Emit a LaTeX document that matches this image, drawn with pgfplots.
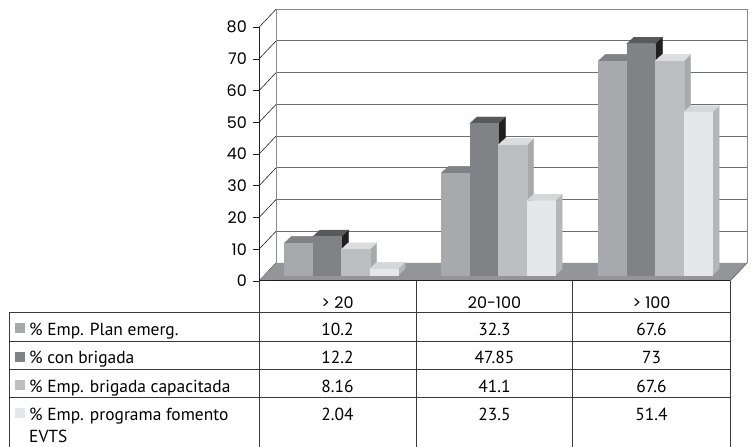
\documentclass[border=0pt]{standalone}
\usepackage{pgfplots}
\usepackage{pgfplotstable}
\pgfplotsset{compat=1.18}
\usepackage{fontspec}
\setmainfont{PT Sans}
\newfontfamily\tickfont{Poppins}

% face colours of the four series: front, top, side
\definecolor{planF}{HTML}{A7A9AC}
\definecolor{planT}{HTML}{808285}
\definecolor{planS}{HTML}{6D6E71}
\definecolor{brigF}{HTML}{808285}
\definecolor{brigT}{HTML}{58595B}
\definecolor{brigS}{HTML}{231F20}
\definecolor{capF}{HTML}{BCBEC0}
\definecolor{capT}{HTML}{DCDDDE}
\definecolor{capS}{HTML}{A7A9AC}
\definecolor{evtsF}{HTML}{E6E7E8}
\definecolor{evtsT}{HTML}{D6D7D9}
\definecolor{evtsS}{HTML}{B4B6B8}
\definecolor{floorC}{HTML}{939598}
\definecolor{gridC}{HTML}{6D6E71}
\definecolor{wallC}{HTML}{8A8C8E}
\definecolor{ruleC}{HTML}{3A3A3C}
\definecolor{axisC}{HTML}{231F20}

\pgfplotstableread{
cat  plan  brig   cap   evts
0    10.2  12.2   8.16  2.04
1    32.3  47.85  41.1  23.5
2    67.6  73     67.6  51.4
}\datatable

% geometry, in bp
\def\yu{3.1713}   % one percentage point
\def\bw{28.4}     % bar width
\def\bup{5.75}    % front face of the bars lies this far behind the front plane
\def\ddx{7}       % bar depth, horizontal
\def\ddy{6.5}     % bar depth, vertical

\pgfdeclareplotmark{void}{}

% 3-D bar drawn at the current data point:
% #1 left edge relative to the category centre, #2 front, #3 top, #4 side
\newcommand\cuboid[4]{%
  \pgfmathsetmacro\yb{\bup-\barval*\yu}%
  \pgfmathsetmacro\yt{\bup}%
  \pgfmathsetmacro\xl{#1}%
  \pgfmathsetmacro\xr{#1+\bw}%
  \fill[#4] (\xr bp,\yb bp) -- (\xr bp+\ddx bp,\yb bp+\ddy bp)
        -- (\xr bp+\ddx bp,\yt bp+\ddy bp) -- (\xr bp,\yt bp) -- cycle;
  \fill[#3] (\xl bp,\yt bp) -- (\xr bp,\yt bp)
        -- (\xr bp+\ddx bp,\yt bp+\ddy bp) -- (\xl bp+\ddx bp,\yt bp+\ddy bp) -- cycle;
  \fill[#2] (\xl bp,\yb bp) rectangle (\xr bp,\yt bp);
}

\newcommand\tablefont{\fontsize{17.5}{21}\selectfont}

% one cell of the data table
\newcommand\cell[4]{%
  \pgfplotstablegetelem{#1}{#2}\of\datatable
  \node[anchor=base,inner sep=0pt,font=\tablefont] at (#3,#4) {\pgfplotsretval};%
}

\begin{document}
\begin{tikzpicture}[x=1bp,y=1bp]
\path[use as bounding box] (0,0) rectangle (752,447);

% back wall
\fill[white] (276,184) rectangle (747,437.7);
\foreach \v in {10,20,...,70}
  \draw[gridC,line width=1bp] (276,184+\v*\yu) -- (747,184+\v*\yu);
\draw[wallC,line width=1bp] (276,184) -- (276,437.7) -- (747,437.7) -- (747,184);
% side wall: one diagonal per tick
\foreach \v in {0,10,...,80}
  \draw[axisC,line width=0.6bp] (259,166+\v*\yu) -- (276,184+\v*\yu);
% floor
\fill[floorC] (259,166) -- (730,166) -- (747,184) -- (276,184) -- cycle;
\draw[gridC,line width=0.8bp] (730,166) -- (747,184);

\begin{axis}[
  at={(259bp,166bp)}, anchor=south west,
  scale only axis, width=471bp, height=253.7bp,
  xmin=-0.5, xmax=2.5, ymin=0, ymax=80,
  clip=false,
  axis lines*=left,
  axis line style={axisC,line width=1bp},
  tick align=outside, major tick length=6bp,
  ytick={0,10,...,80},
  ytick style={axisC,line width=0.8bp},
  xtick={0,1,2},
  xticklabels={{> 20},{20-100},{> 100}},
  xtick style={draw=none},
  /pgf/number format/assume math mode=true,
  ticklabel style={font=\tickfont\fontsize{16}{16}\selectfont, text=black},
  yticklabel style={inner sep=0pt, anchor=east, xshift=-6bp},
  xticklabel style={inner sep=0pt, anchor=base, yshift=-21.3bp},
  scatter/@post marker code/.code={},
]
\addplot[scatter, only marks, mark=void, visualization depends on={rawy \as \barval},
  scatter/@pre marker code/.code={\cuboid{-53}{planF}{planT}{planS}}]
  table[x=cat,y=plan]{\datatable};
\addplot[scatter, only marks, mark=void, visualization depends on={rawy \as \barval},
  scatter/@pre marker code/.code={\cuboid{-24.6}{brigF}{brigT}{brigS}}]
  table[x=cat,y=brig]{\datatable};
\addplot[scatter, only marks, mark=void, visualization depends on={rawy \as \barval},
  scatter/@pre marker code/.code={\cuboid{3.8}{capF}{capT}{capS}}]
  table[x=cat,y=cap]{\datatable};
\addplot[scatter, only marks, mark=void, visualization depends on={rawy \as \barval},
  scatter/@pre marker code/.code={\cuboid{32.2}{evtsF}{evtsT}{evtsS}}]
  table[x=cat,y=evts]{\datatable};
\end{axis}

% data table
\begin{scope}[ruleC,line width=0.9bp]
  \foreach \yy in {134.3,106,77.7,49.3}
    \draw (9,\yy) -- (730,\yy);
  \draw (9,134.3) -- (9,0);
  \foreach \xx in {259,416,572.5,730}
    \draw (\xx,166) -- (\xx,0);
\end{scope}

\fill[planF] (15,113.7) rectangle ++(10,10);
\fill[brigF] (15,85.4) rectangle ++(10,10);
\fill[capF]  (15,57.1) rectangle ++(10,10);
\fill[evtsF] (15,28.7) rectangle ++(10,10);

\begin{scope}[every node/.style={anchor=base west,inner sep=0pt,font=\tablefont}]
  \node at (29,111.3) {\% Emp. Plan emerg.};
  \node at (29,83)    {\% con brigada};
  \node at (29,54.7)  {\% Emp. brigada capacitada};
  \node at (29,26.3)  {\% Emp. programa fomento};
  \node at (29,4.5)   {EVTS};
\end{scope}

\foreach \r in {0,1,2} {
  \pgfmathsetmacro\cx{337.5+157*\r}
  \cell{\r}{plan}{\cx}{111.3}
  \cell{\r}{brig}{\cx}{83}
  \cell{\r}{cap}{\cx}{54.7}
  \cell{\r}{evts}{\cx}{26.3}
}
\end{tikzpicture}
\end{document}
